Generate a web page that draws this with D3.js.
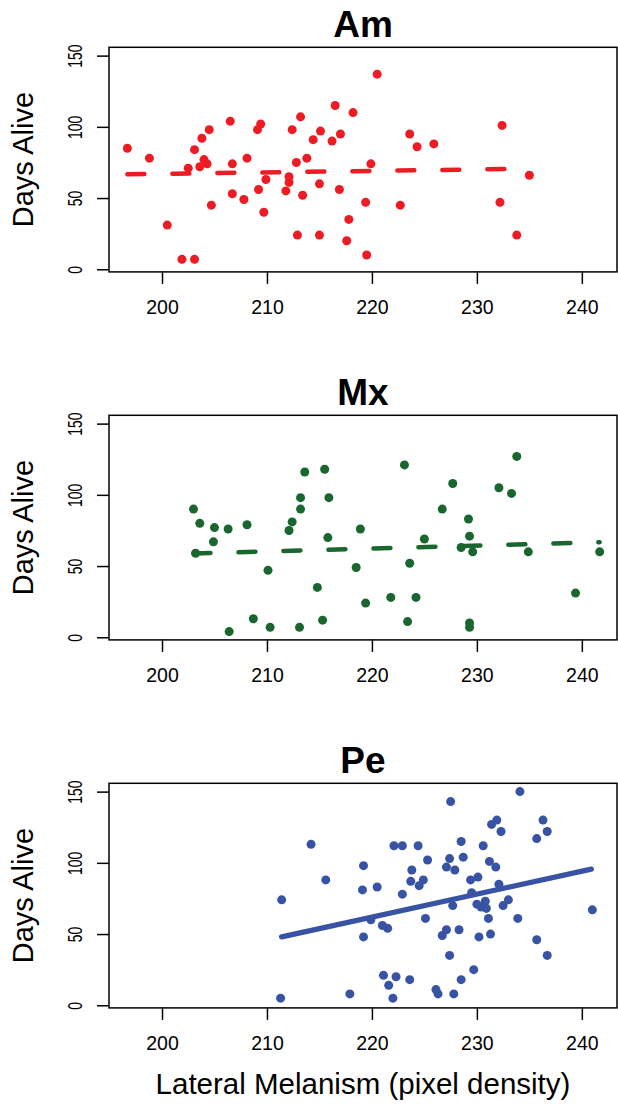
<!DOCTYPE html>
<html>
<head>
<meta charset="utf-8">
<title>Days Alive vs Lateral Melanism</title>
<style>
  body { margin: 0; background: #fff; }
  svg { display: block; font-family: "Liberation Sans", Arial, Helvetica, sans-serif; }
  .tick line { stroke: #000; stroke-width: 1.5; }
</style>
</head>
<body>
<svg width="618" height="1104"></svg>
<script src="https://d3js.org/d3.v7.min.js"></script>
<script>

// groups (panel titles)
const categories = ["Am", "Mx", "Pe"];

// Am: lateral melanism vs days alive
const amX = [196.7, 198.8, 200.5, 201.9, 203.1, 202.5, 203.1, 203.8, 204.5, 203.6,
             204.0, 204.3, 204.7, 206.5, 206.7, 206.7, 207.8, 208.1, 209.1, 209.4,
             209.2, 209.7, 209.9, 211.8, 212.1, 212.1, 212.4, 213.2, 212.8, 213.4,
             212.9, 213.8, 214.4, 215.1, 215.0, 215.0, 216.2, 216.5, 217.0, 216.9,
             217.8, 217.6, 218.2, 220.5, 219.9, 219.4, 219.5, 222.7, 223.6, 224.3,
             225.9, 232.4, 232.2, 233.8, 235.0];
const amY = [85, 78, 31, 7, 7, 71, 84, 92, 98, 72,
             77, 74, 45, 104, 74, 53, 49, 78, 98, 102,
             56, 40, 63, 55, 65, 61, 98, 107, 75, 52,
             24, 78, 91, 97, 60, 24, 90, 115, 95, 56,
             35, 20, 110, 137, 74, 47, 10, 45, 95, 86,
             88, 101, 47, 24, 66];

// Mx
const mxX = [203.0, 203.6, 203.2, 205.0, 204.9, 206.3, 206.4, 208.1, 208.7, 210.1,
             210.3, 212.1, 212.4, 213.1, 213.2, 213.2, 213.6, 214.8, 215.3, 215.5,
             215.9, 215.8, 218.5, 218.9, 219.4, 221.8, 223.1, 223.6, 223.4, 224.2,
             225.0, 226.7, 227.7, 228.5, 229.2, 229.3, 229.6, 229.3, 229.3, 232.1,
             233.3, 233.8, 234.9, 239.4, 241.7];
const mxY = [90, 80, 59, 77, 67, 76, 4, 79, 13, 47,
             7, 75, 81, 7, 98, 90, 116, 35, 12, 118,
             98, 70, 49, 76, 24, 28, 121, 52, 11, 28,
             69, 90, 108, 63, 83, 71, 60, 10, 7, 105,
             101, 127, 60, 31, 60];

// Pe
const peX = [214.2, 215.6, 211.4, 211.3, 217.9, 234.1, 227.5, 231.4, 231.9, 232.3,
             236.3, 236.7, 235.7, 222.1, 222.9, 224.4, 228.5, 230.6, 219.2, 225.3,
             227.4, 227.1, 227.9, 228.7, 231.2, 231.8, 223.8, 223.7, 224.9, 224.5,
             229.4, 230.1, 232.1, 219.1, 220.5, 222.9, 229.5, 227.7, 230.0, 230.4,
             230.8, 230.9, 232.5, 233.0, 219.9, 221.0, 221.5, 225.1, 231.1, 233.9,
             241.0, 219.2, 226.7, 227.1, 228.3, 230.2, 231.3, 235.7, 236.7, 227.4,
             229.7, 221.1, 222.3, 221.6, 223.6, 222.0, 226.1, 226.3, 227.8, 228.5];
const peY = [113, 88, 74, 5, 8, 150, 143, 127, 130, 122,
             130, 122, 117, 112, 112, 112, 115, 112, 98, 102,
             103, 97, 95, 104, 101, 97, 95, 87, 88, 84,
             88, 90, 85, 81, 83, 78, 79, 70, 71, 69,
             73, 68, 70, 74, 60, 56, 54, 61, 61, 61,
             67, 48, 49, 53, 53, 48, 50, 46, 35, 35,
             25, 21, 20, 14, 18, 5, 11, 8, 8, 18];

// fitted lines (end points)
const amFitX = [196.7, 235.0], amFitY = [66.7, 70.6];
const mxFitX = [203.0, 241.7], mxFitY = [58.8, 66.7];
const peFitX = [211.4, 240.9], peFitY = [48.0, 95.6];

// axes
const xTicks = [200, 210, 220, 230, 240];
const yTicks = [0, 50, 100, 150];
const xLimits = [194.95, 243.35];
const yLimits = [-1.84, 155.84];

const colors = ["#ed1c24", "#19662f", "#3953a4"];
const dashed = [true, true, false];

const series = [
  {x: amX, y: amY, fx: amFitX, fy: amFitY},
  {x: mxX, y: mxY, fx: mxFitX, fy: mxFitY},
  {x: peX, y: peY, fx: peFitX, fy: peFitY}
];

var svg = d3.select("svg"),
    panelH = 368,
    box = {left: 109, right: 617, top: 47.3, bottom: 271.9},
    midX = (box.left + box.right) / 2;

var x = d3.scaleLinear().domain(xLimits).range([box.left, box.right]);
var y = d3.scaleLinear().domain(yLimits).range([box.bottom, box.top]);

var line = d3.line()
  .x(function(d) { return x(d[0]); })
  .y(function(d) { return y(d[1]); });

categories.forEach(function(name, i) {
  var s = series[i];
  var g = svg.append("g").attr("transform", "translate(0," + i * panelH + ")");

  // title
  g.append("text")
    .attr("x", midX)
    .attr("y", 36.7)
    .attr("text-anchor", "middle")
    .attr("font-size", 37)
    .attr("font-weight", "bold")
    .text(name);

  // points
  g.append("g")
    .selectAll("circle")
    .data(d3.range(s.x.length))
    .enter().append("circle")
    .attr("cx", function(k) { return x(s.x[k]); })
    .attr("cy", function(k) { return y(s.y[k]); })
    .attr("r", 4.5)
    .attr("fill", colors[i]);

  // fit line
  g.append("path")
    .datum(s.fx.map(function(v, k) { return [v, s.fy[k]]; }))
    .attr("d", line)
    .attr("fill", "none")
    .attr("stroke", colors[i])
    .attr("stroke-width", dashed[i] ? 4.5 : 5.3)
    .attr("stroke-linecap", "round")
    .attr("stroke-dasharray", dashed[i] ? "17,28" : null);

  // box
  g.append("rect")
    .attr("x", box.left)
    .attr("y", box.top)
    .attr("width", box.right - box.left)
    .attr("height", box.bottom - box.top)
    .attr("fill", "none")
    .attr("stroke", "#000")
    .attr("stroke-width", 1.5);

  // x axis
  var xa = g.append("g")
    .attr("transform", "translate(0," + box.bottom + ")")
    .call(d3.axisBottom(x).tickValues(xTicks).tickSize(12).tickSizeOuter(0));
  xa.select(".domain").remove();
  xa.selectAll("text")
    .attr("y", 42)
    .attr("dy", null)
    .attr("fill", "#000")
    .attr("font-size", 19.5)
    .attr("font-family", null);

  // y axis
  var ya = g.append("g")
    .attr("transform", "translate(" + box.left + ",0)")
    .call(d3.axisLeft(y).tickValues(yTicks).tickSize(12).tickSizeOuter(0));
  ya.select(".domain").remove();
  ya.selectAll("text")
    .attr("x", 0)
    .attr("y", 0)
    .attr("dy", null)
    .attr("text-anchor", "middle")
    .attr("fill", "#000")
    .attr("font-size", 21)
    .attr("font-family", null)
    .attr("transform", "translate(-27,0) rotate(-90) scale(0.66,1)");

  // y label
  g.append("text")
    .attr("transform", "translate(33," + (box.top + box.bottom) / 2 + ") rotate(-90)")
    .attr("text-anchor", "middle")
    .attr("font-size", 29)
    .text("Days Alive");
});

// x label, bottom panel only
svg.append("text")
  .attr("x", midX)
  .attr("y", 1094)
  .attr("text-anchor", "middle")
  .attr("font-size", 29.5)
  .text("Lateral Melanism (pixel density)");

</script>
</body>
</html>
